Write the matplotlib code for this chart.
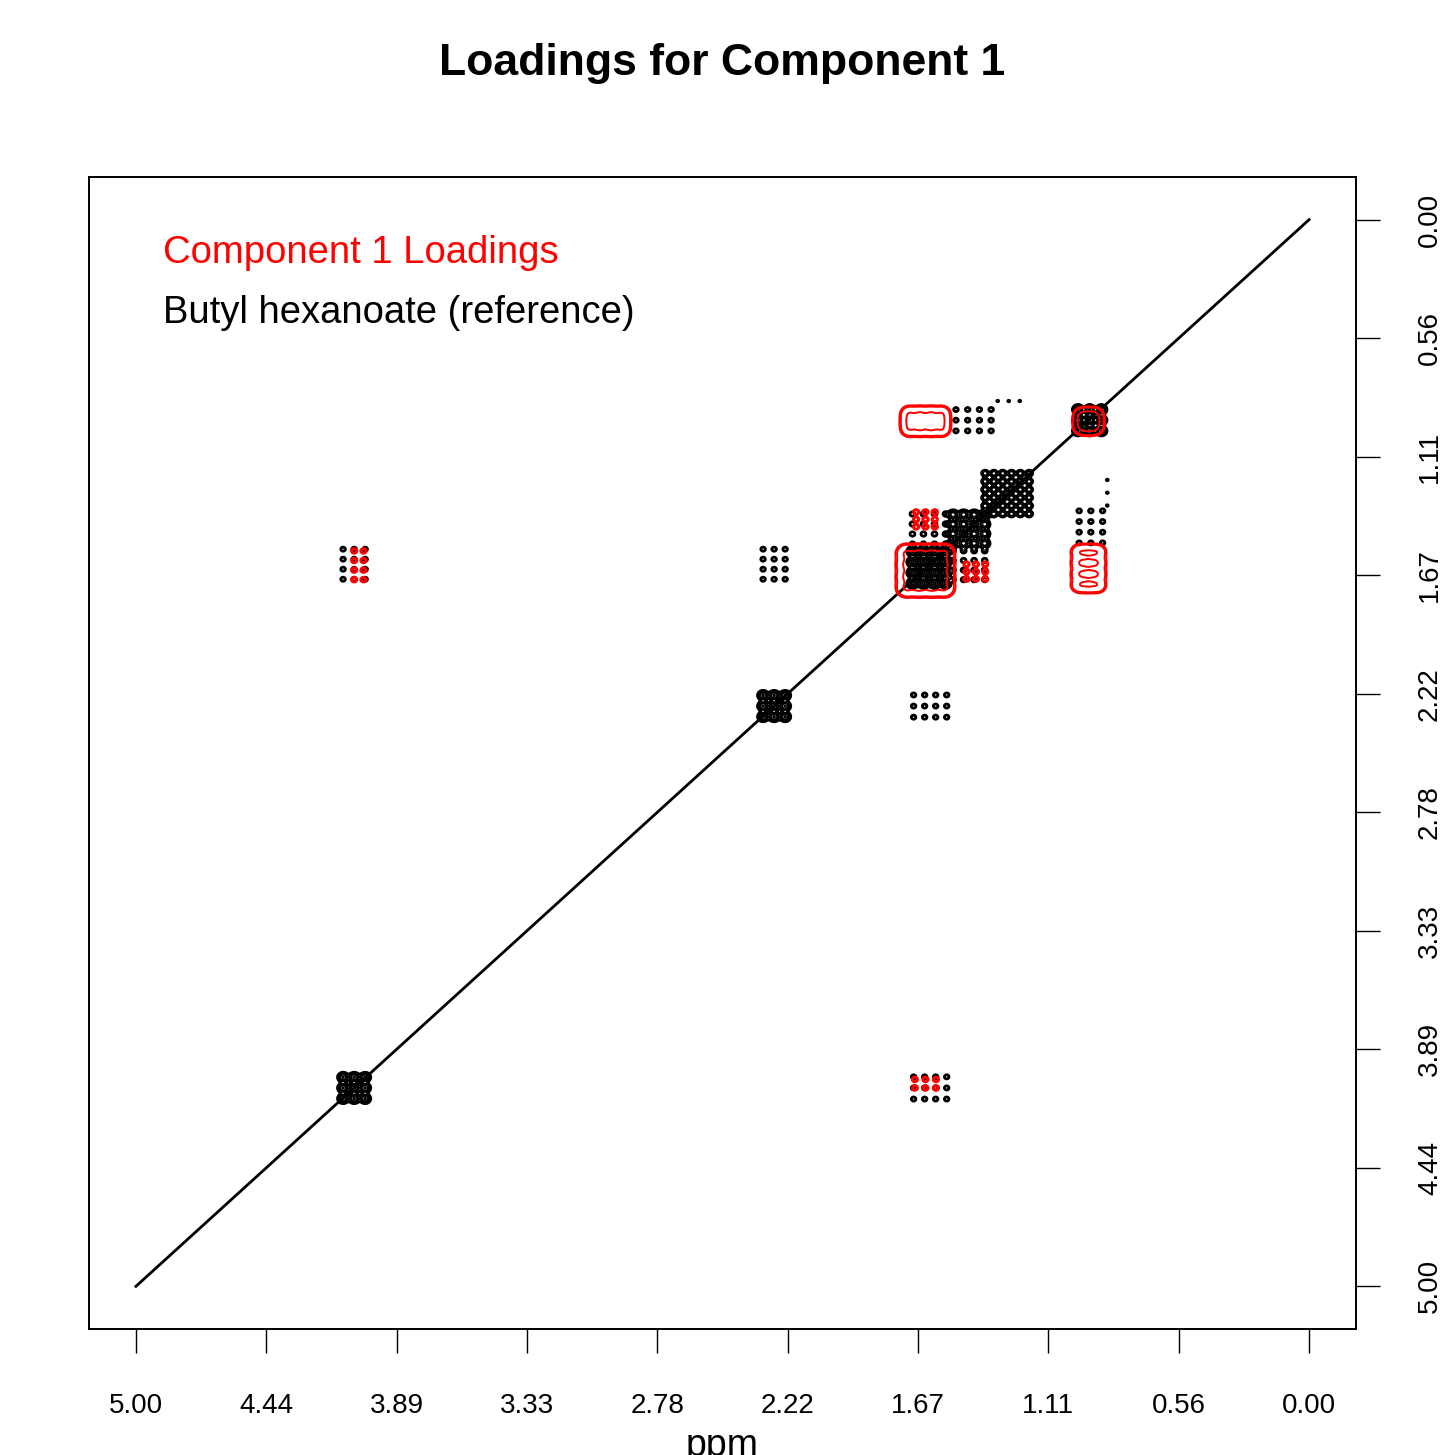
import numpy as np
import matplotlib
matplotlib.use("Agg")
import matplotlib.pyplot as plt

plt.rcParams['font.family'] = ['Liberation Sans', 'DejaVu Sans']

# axis ticks (ppm, both axes run from 5 down to 0)
tick_vals = np.linspace(5, 0, 10)
tick_labels = ["5.00", "4.44", "3.89", "3.33", "2.78", "2.22", "1.67", "1.11", "0.56", "0.00"]

# reference spectrum (butyl hexanoate) peak list:
# centre x / y (ppm), number of multiplet lines in x / y, line spacing, line width, height
ref_x  = [4.07, 2.28, 1.62, 1.45, 1.287, 0.935, 4.07, 1.615, 2.28, 1.615, 1.43, 0.93, 1.62, 1.45, 1.28, 0.86]
ref_y  = [4.07, 2.28, 1.63, 1.45, 1.284, 0.94, 1.615, 4.07, 1.615, 2.28, 0.94, 1.44, 1.45, 1.62, 0.85, 1.28]
ref_nx = [3, 3, 4, 4, 6, 3, 3, 4, 3, 4, 4, 3, 4, 4, 3, 1]
ref_ny = [3, 3, 4, 4, 6, 3, 4, 3, 4, 3, 3, 4, 4, 4, 1, 3]
ref_jx = [0.047, 0.047, 0.047, 0.045, 0.0375, 0.05, 0.047, 0.047, 0.047, 0.047, 0.05, 0.05, 0.047, 0.045, 0.047, 0.05]
ref_jy = [0.05, 0.05, 0.05, 0.045, 0.038, 0.05, 0.047, 0.052, 0.047, 0.052, 0.05, 0.05, 0.047, 0.045, 0.05, 0.06]
ref_w  = [0.012, 0.012, 0.012, 0.012, 0.009, 0.012, 0.008, 0.008, 0.008, 0.008, 0.008, 0.008, 0.008, 0.008, 0.007, 0.007]
ref_h  = [2.4, 2.4, 2.6, 2.0, 1.4, 2.4, 0.7, 0.7, 0.7, 0.7, 0.7, 0.7, 0.8, 0.8, 0.35, 0.35]

# component 1 loadings peak list (same layout)
load_x  = [1.635, 1.635, 0.94, 0.94, 1.635, 1.42, 4.05, 1.635]
load_y  = [1.645, 0.945, 0.945, 1.635, 1.405, 1.65, 1.62, 4.05]
load_nx = [4, 4, 3, 3, 3, 3, 2, 3]
load_ny = [4, 3, 3, 4, 3, 3, 4, 2]
load_jx = [0.055, 0.047, 0.03, 0.04, 0.04, 0.04, 0.04, 0.045]
load_jy = [0.055, 0.037, 0.03, 0.052, 0.035, 0.035, 0.045, 0.04]
load_w  = [0.024, 0.021, 0.02, 0.021, 0.01, 0.01, 0.01, 0.01]
load_h  = [1.0, 0.8, 0.8, 0.8, 0.42, 0.42, 0.42, 0.42]

ppm = np.arange(-0.2, 5.2, 0.0025)


def multiplet(center, n, j, width):
    offs = (np.arange(n) - (n - 1) / 2) * j
    line = np.zeros_like(ppm)
    for o in offs:
        line += np.exp(-0.5 * ((ppm - center - o) / width) ** 2)
    return line


def spectrum(xs, ys, nxs, nys, jxs, jys, ws, hs):
    s = np.zeros((ppm.size, ppm.size))
    for x, y, nx, ny, jx, jy, w, h in zip(xs, ys, nxs, nys, jxs, jys, ws, hs):
        s += h * np.outer(multiplet(y, ny, jy, w), multiplet(x, nx, jx, w))
    return s


ref = spectrum(ref_x, ref_y, ref_nx, ref_ny, ref_jx, ref_jy, ref_w, ref_h)
load = spectrum(load_x, load_y, load_nx, load_ny, load_jx, load_jy, load_w, load_h)

fig = plt.figure(figsize=(14.44, 14.55), dpi=100)
ax = fig.add_axes([89 / 1444, 126 / 1455, 1267 / 1444, 1152 / 1455])

ax.plot([5, 0], [5, 0], color='black', lw=2.0, zorder=2)
ax.contour(ppm, ppm, ref, levels=[0.25, 0.45, 0.8, 1.4, 2.3],
           colors='black', linewidths=1.4, zorder=3)
ax.contour(ppm, ppm, load, levels=[0.18, 0.3, 1.02],
           colors='red', linewidths=1.4, zorder=4)

ax.set_xlim(5.2, -0.2)
ax.set_ylim(5.2, -0.2)
ax.set_xticks(tick_vals)
ax.set_xticklabels(tick_labels)
ax.set_yticks(tick_vals)
ax.set_yticklabels(tick_labels)
ax.yaxis.tick_right()
ax.tick_params(axis='x', direction='out', length=17, width=1.0, pad=29, labelsize=20)
ax.tick_params(axis='y', direction='out', length=17, width=1.0, pad=27, labelsize=20,
               labelrotation=90)
for lab in ax.get_yticklabels():
    lab.set_verticalalignment('center')
for sp in ax.spines.values():
    sp.set_linewidth(1.4)

fig.text(0.5, 1 - 63 / 1455, "Loadings for Component 1", ha='center', va='center',
         fontsize=32, fontweight='bold')
fig.text(163 / 1444, 1 - 253 / 1455, "Component 1 Loadings", color='red',
         ha='left', va='center', fontsize=27.5)
fig.text(163 / 1444, 1 - 313 / 1455, "Butyl hexanoate (reference)", color='black',
         ha='left', va='center', fontsize=27.5)
fig.text(0.5, -1 / 1455, "ppm", ha='center', va='baseline', fontsize=27)

fig.savefig("out.png", dpi=100)
